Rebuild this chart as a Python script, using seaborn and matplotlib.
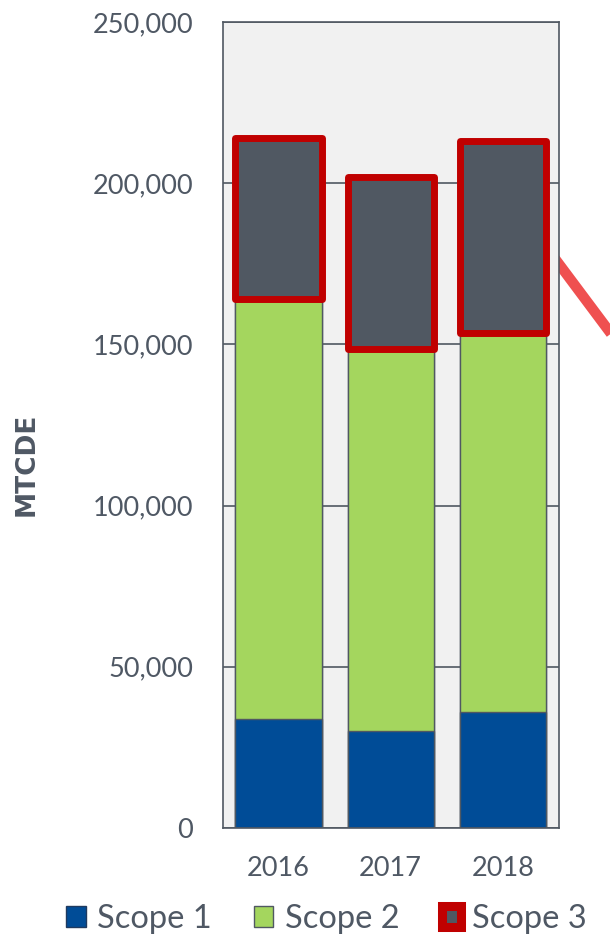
import numpy as np
import pandas as pd
import matplotlib
matplotlib.use("Agg")
import matplotlib.pyplot as plt
from matplotlib.patches import Patch
from matplotlib.lines import Line2D
from matplotlib.ticker import FuncFormatter
import seaborn as sns

# Emissions by scope, metric tons CO2 equivalent
years = ["2016", "2017", "2018"]
scope1 = [33700, 30100, 35900]
scope2 = [130400, 118500, 117600]
scope3 = [49900, 53400, 59600]
y_ticks = [0, 50000, 100000, 150000, 200000, 250000]
series_names = ["Scope 1", "Scope 2", "Scope 3"]

BLUE = "#004C97"
GREEN = "#A4D65E"
SLATE = "#505862"
RED = "#C00000"
TEXT = "#4F5864"
BG = "#F1F1F1"

sns.set_theme(style="white")
plt.rcParams["font.family"] = ["Lato", "DejaVu Sans"]

df = pd.DataFrame({"year": years, "s1": scope1, "s2": scope2, "s3": scope3})
df["s12"] = df["s1"] + df["s2"]
df["total"] = df["s12"] + df["s3"]

fig = plt.figure(figsize=(6.1, 9.4), dpi=100)
ax = fig.add_axes([222.5 / 610, 112 / 940, 336.5 / 610, 806 / 940])
ax.set_facecolor(BG)

bar_w = 0.77
edge_kw = dict(edgecolor=SLATE, linewidth=1.0, saturation=1, width=bar_w,
               errorbar=None, ax=ax)
# Stacked bars built from cumulative layers, tallest first
sns.barplot(data=df, x="year", y="total", color=SLATE, **edge_kw)
sns.barplot(data=df, x="year", y="s12", color=GREEN, **edge_kw)
sns.barplot(data=df, x="year", y="s1", color=BLUE, **edge_kw)

# Red frame around the Scope 3 segment
pos = np.arange(len(years))
ax.bar(pos, df["s3"], bottom=df["s12"], width=bar_w, fill=False,
       edgecolor=RED, linewidth=5.0, joinstyle="round", zorder=5)

ax.set_xlim(-0.5, len(years) - 0.5)
ax.set_ylim(y_ticks[0], y_ticks[-1])
ax.set_yticks(y_ticks)
ax.yaxis.set_major_formatter(FuncFormatter(lambda v, p: f"{int(v):,}"))
ax.set_axisbelow(True)
ax.yaxis.grid(True, color=SLATE, linewidth=1.2)
ax.xaxis.grid(False)
for s in ax.spines.values():
    s.set_visible(True)
    s.set_color(SLATE)
    s.set_linewidth(1.2)

ax.tick_params(axis="y", length=0, pad=21, labelsize=19.5, labelcolor=TEXT)
ax.tick_params(axis="x", length=0, pad=20, labelsize=19.5, labelcolor=TEXT)
ax.set_xlabel("")
ax.set_ylabel("")

fig.text(27 / 610, 1 - 464 / 940, "MTCDE", rotation=90, ha="center", va="center",
         fontsize=19, fontweight="bold", color=TEXT, family=["DejaVu Sans"])

# Red pointer leaving the plot on the right
fig.add_artist(Line2D([550 / 610, 615 / 610], [1 - 252 / 940, 1 - 339 / 940],
                      transform=fig.transFigure, color="#EF5050", linewidth=7.5,
                      solid_capstyle="butt", zorder=-1))

handles = [
    Patch(facecolor=BLUE, edgecolor="#1F3A5F", linewidth=1.0, label=series_names[0]),
    Patch(facecolor=GREEN, edgecolor=SLATE, linewidth=1.0, label=series_names[1]),
    Patch(facecolor=SLATE, edgecolor=RED, linewidth=6.5, joinstyle="round",
          label=series_names[2]),
]
leg = fig.legend(handles=handles, loc="center left",
                 bbox_to_anchor=(66 / 610, 1 - 919 / 940), ncol=3, frameon=False,
                 fontsize=23.5, handlelength=0.6, handleheight=0.6,
                 handletextpad=0.34, columnspacing=1.3, borderpad=0, borderaxespad=0)
for t in leg.get_texts():
    t.set_color(TEXT)

fig.savefig("out.png", dpi=100, facecolor="white")
